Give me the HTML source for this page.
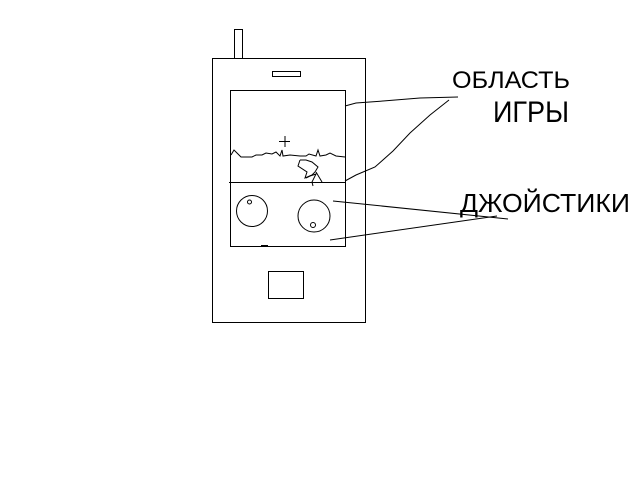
<!DOCTYPE html>
<html><head><meta charset="utf-8"><style>
html,body{margin:0;padding:0;background:#fff;width:640px;height:480px;overflow:hidden}
</style></head><body>
<svg width="640" height="480" viewBox="0 0 640 480" xmlns="http://www.w3.org/2000/svg" fill="none" stroke="#000" stroke-width="1" shape-rendering="crispEdges">
<rect x="234.5" y="29.5" width="8" height="29"/>
<rect x="212.5" y="58.5" width="153" height="264"/>
<rect x="272.5" y="71.5" width="28" height="5"/>
<rect x="230.5" y="90.5" width="115" height="156"/>
<line x1="229" y1="182.5" x2="346" y2="182.5"/>
<line x1="261" y1="245.5" x2="268" y2="245.5"/>
<rect x="268.5" y="271.5" width="35" height="27"/>
<g shape-rendering="auto">
<circle cx="252" cy="211" r="15.5"/>
<circle cx="249.5" cy="202" r="2"/>
<circle cx="314" cy="216" r="16"/>
<circle cx="313" cy="225" r="2.5"/>
<line x1="279" y1="141.5" x2="290" y2="141.5"/>
<line x1="285" y1="136" x2="285" y2="147"/>
<polyline points="231,155 234,150 238,154 241,157 252,157 256,155 262,155 266,153 272,154 276,152 280,156 282,150 283,156 290,155 300,156 306,156 309,154 316,156 318,150 320,156 326,155 330,153 336,156 345,157"/>
<polyline points="300,160 298,166 307,172 305,178 312,175 315,172 318,167 312,162 306,160 300,160"/>
<polyline points="306,178 310,176 316,174 312,182 313,186 M 316,172 322,182"/>
<line x1="316" y1="172" x2="322" y2="182"/>
<polyline points="345,106 356,103 383,101 420,98 458,97"/>
<polyline points="345,181 356,175 375,167 393,151 410,133 430,115 449,100"/>
<line x1="333" y1="201" x2="508" y2="219"/>
<line x1="330" y1="240" x2="497" y2="216"/>
</g>
<g fill="#000" stroke="none" font-family="Liberation Sans, DejaVu Sans, sans-serif" font-weight="normal">
<text x="452" y="88" font-size="24" textLength="118" lengthAdjust="spacingAndGlyphs">ОБЛАСТЬ</text>
<text x="493" y="122" font-size="30" textLength="76" lengthAdjust="spacingAndGlyphs">ИГРЫ</text>
<text x="460" y="212" font-size="26" textLength="170" lengthAdjust="spacingAndGlyphs">ДЖОЙСТИКИ</text>
</g>
</svg>
</body></html>
